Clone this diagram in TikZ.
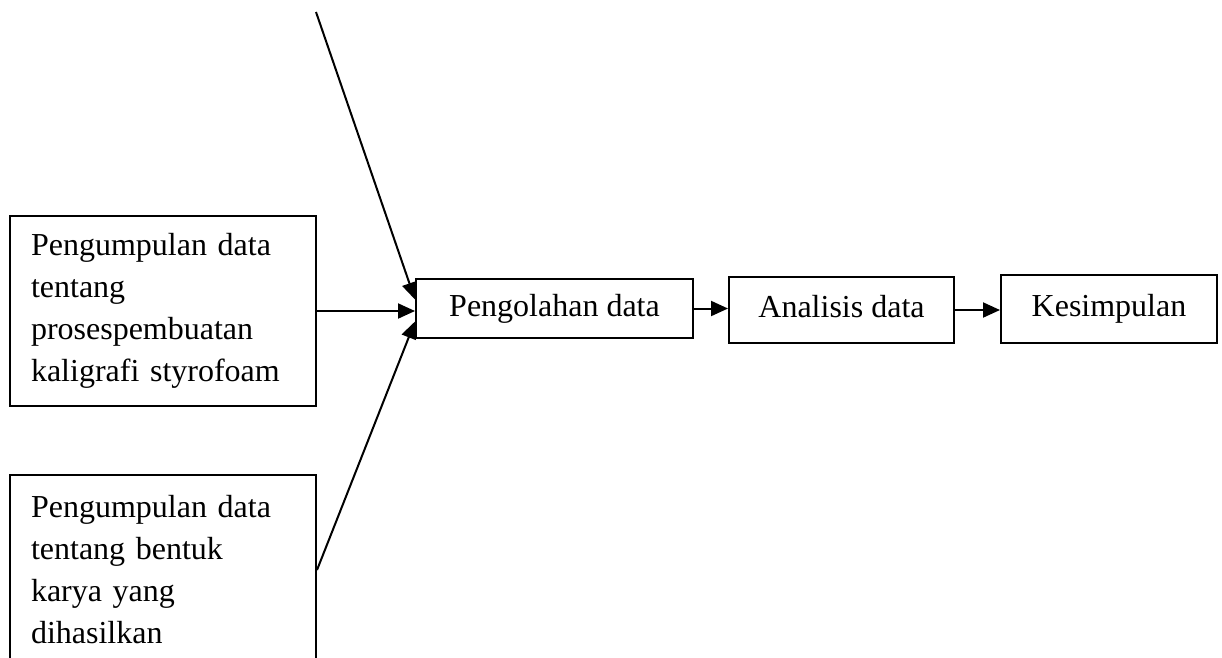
\documentclass[tikz,border=0pt]{standalone}
\usepackage{fontspec}
\setmainfont{Liberation Serif}
\usetikzlibrary{arrows.meta,calc}
\begin{document}
\begin{tikzpicture}[x=1pt,y=-1pt,
  box/.style={draw, line width=2pt, rectangle, inner sep=0pt},
  tallbox/.style={box, minimum width=306pt, minimum height=190pt, text width=264pt, align=left, font=\fontsize{32}{42}\selectfont},
  flatbox/.style={box, font=\fontsize{32}{42}\selectfont, text height=22pt, text depth=7pt},
  conn/.style={line width=2pt, -{Triangle[length=17pt,width=15pt]}}]
\useasboundingbox (0,0) rectangle (1222,657);
\clip (0,0) rectangle (1222,657);
\node[tallbox] (b1) at (163,311) {Pengumpulan data\\tentang\\prosespembuatan\\kaligrafi styrofoam};
\node[tallbox] (b2) at (163,570) {Pengumpulan data\\tentang bentuk\\karya yang\\dihasilkan};
\node[flatbox, minimum width=277pt, minimum height=59pt] (p) at (554.5,308.5) {Pengolahan data};
\node[flatbox, minimum width=225pt, minimum height=66pt] (a) at (841.5,310) {Analisis data};
\node[flatbox, minimum width=216pt, minimum height=68pt] (k) at (1109,309) {Kesimpulan};
\coordinate (top) at (316,12);
\draw[conn] (top) -- ($(p.west)+(0,-9)$);
\draw[conn] (b1.east) -- (b1.east -| p.west);
\draw[conn] (b2.east) -- ($(p.west)+(0,13)$);
\draw[conn] (p.east) -- (p.east -| a.west);
\draw[conn] (a.east) -- (a.east -| k.west);
\end{tikzpicture}
\end{document}
